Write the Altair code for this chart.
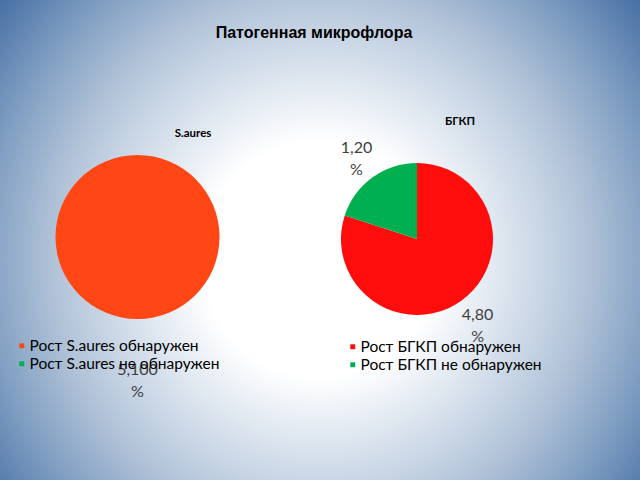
import altair as alt
import pandas as pd

# ---- data ----
title_text = "Патогенная микрофлора"
saures_title = "S.aures"
bgkp_title = "БГКП"

saures_categories = ["Рост S.aures обнаружен", "Рост S.aures не обнаружен"]
saures_values = [5, 0]
saures_colors = ["#FF4614", "#00B050"]

bgkp_categories = ["Рост БГКП обнаружен", "Рост БГКП не обнаружен"]
bgkp_values = [4, 1]
bgkp_colors = ["#FF0D0D", "#00B050"]


def make_df(cats, vals):
    total = sum(vals)
    labels = [f"{v},{round(v / total * 100)}\n%" for v in vals]
    return pd.DataFrame({"category": cats, "value": vals, "order": list(range(len(cats))), "label": labels})


saures_df = make_df(saures_categories, saures_values)
bgkp_df = make_df(bgkp_categories, bgkp_values)

W, H = 640, 480
FONT = "Lato"

# ---- background (radial gradient) ----
gradient = alt.RadialGradient(
    gradient="radial",
    x1=0.5, y1=0.53, r1=0,
    x2=0.5, y2=0.53, r2=0.66,
    stops=[
        alt.GradientStop(color="#FFFFFF", offset=0.0),
        alt.GradientStop(color="#FFFFFF", offset=0.28),
        alt.GradientStop(color="#CAD7E6", offset=0.52),
        alt.GradientStop(color="#B2C3D8", offset=0.63),
        alt.GradientStop(color="#82A0C3", offset=0.79),
        alt.GradientStop(color="#3F69A0", offset=1.0),
    ],
)
one = pd.DataFrame({"a": [0]})
background = alt.Chart(one).mark_rect(fill=gradient).encode(
    x=alt.value(0), x2=alt.value(W), y=alt.value(-80), y2=alt.value(560)
)

title = alt.Chart(one).mark_text(
    text=title_text, font="Liberation Sans", fontSize=16, fontWeight="bold", color="#000000"
).encode(x=alt.value(314), y=alt.value(33))

sub1 = alt.Chart(one).mark_text(
    text=saures_title, font=FONT, fontSize=11.5, fontWeight="bold", color="#000000"
).encode(x=alt.value(193), y=alt.value(134))

sub2 = alt.Chart(one).mark_text(
    text=bgkp_title, font=FONT, fontSize=11.5, fontWeight="bold", color="#000000"
).encode(x=alt.value(460), y=alt.value(122))


def pie(df, cats, colors, cx, cy, r, label_r, label_dy, lx, ly):
    base = alt.Chart(df).encode(
        theta=alt.Theta("value:Q", stack=True),
        order=alt.Order("order:Q"),
    )
    arc = base.mark_arc(outerRadius=r).encode(
        x=alt.value(cx),
        y=alt.value(cy),
        color=alt.Color(
            "category:N",
            scale=alt.Scale(domain=cats, range=colors),
            legend=alt.Legend(
                orient="none", legendX=lx, legendY=ly, title=None,
                symbolType="square", symbolSize=24, symbolStrokeWidth=0,
                labelFont=FONT, labelFontSize=15.5, labelColor="#000000",
                labelLimit=400, labelOffset=0, rowPadding=1,
            ),
            sort=cats,
        ),
    )
    text = base.transform_filter("datum.value > 0").mark_text(
        radius=label_r, dy=label_dy, font=FONT, fontSize=16, color="#404040",
        lineBreak="\n", lineHeight=22,
    ).encode(x=alt.value(cx), y=alt.value(cy), text="label:N")
    return alt.layer(arc, text)


pie1 = pie(saures_df, saures_categories, saures_colors, 137.5, 237, 82, 143, -10, 14, 338)
pie2 = pie(bgkp_df, bgkp_categories, bgkp_colors, 417, 239, 76, 103, -7.5, 345, 339)

chart = (
    alt.layer(background, title, sub1, sub2, pie1, pie2)
    .resolve_scale(color="independent", theta="independent")
    .properties(width=W, height=H, autosize="none", padding=0)
    .configure_view(stroke=None)
)

chart.save("out.html", embed_options={"renderer": "svg", "actions": False})
